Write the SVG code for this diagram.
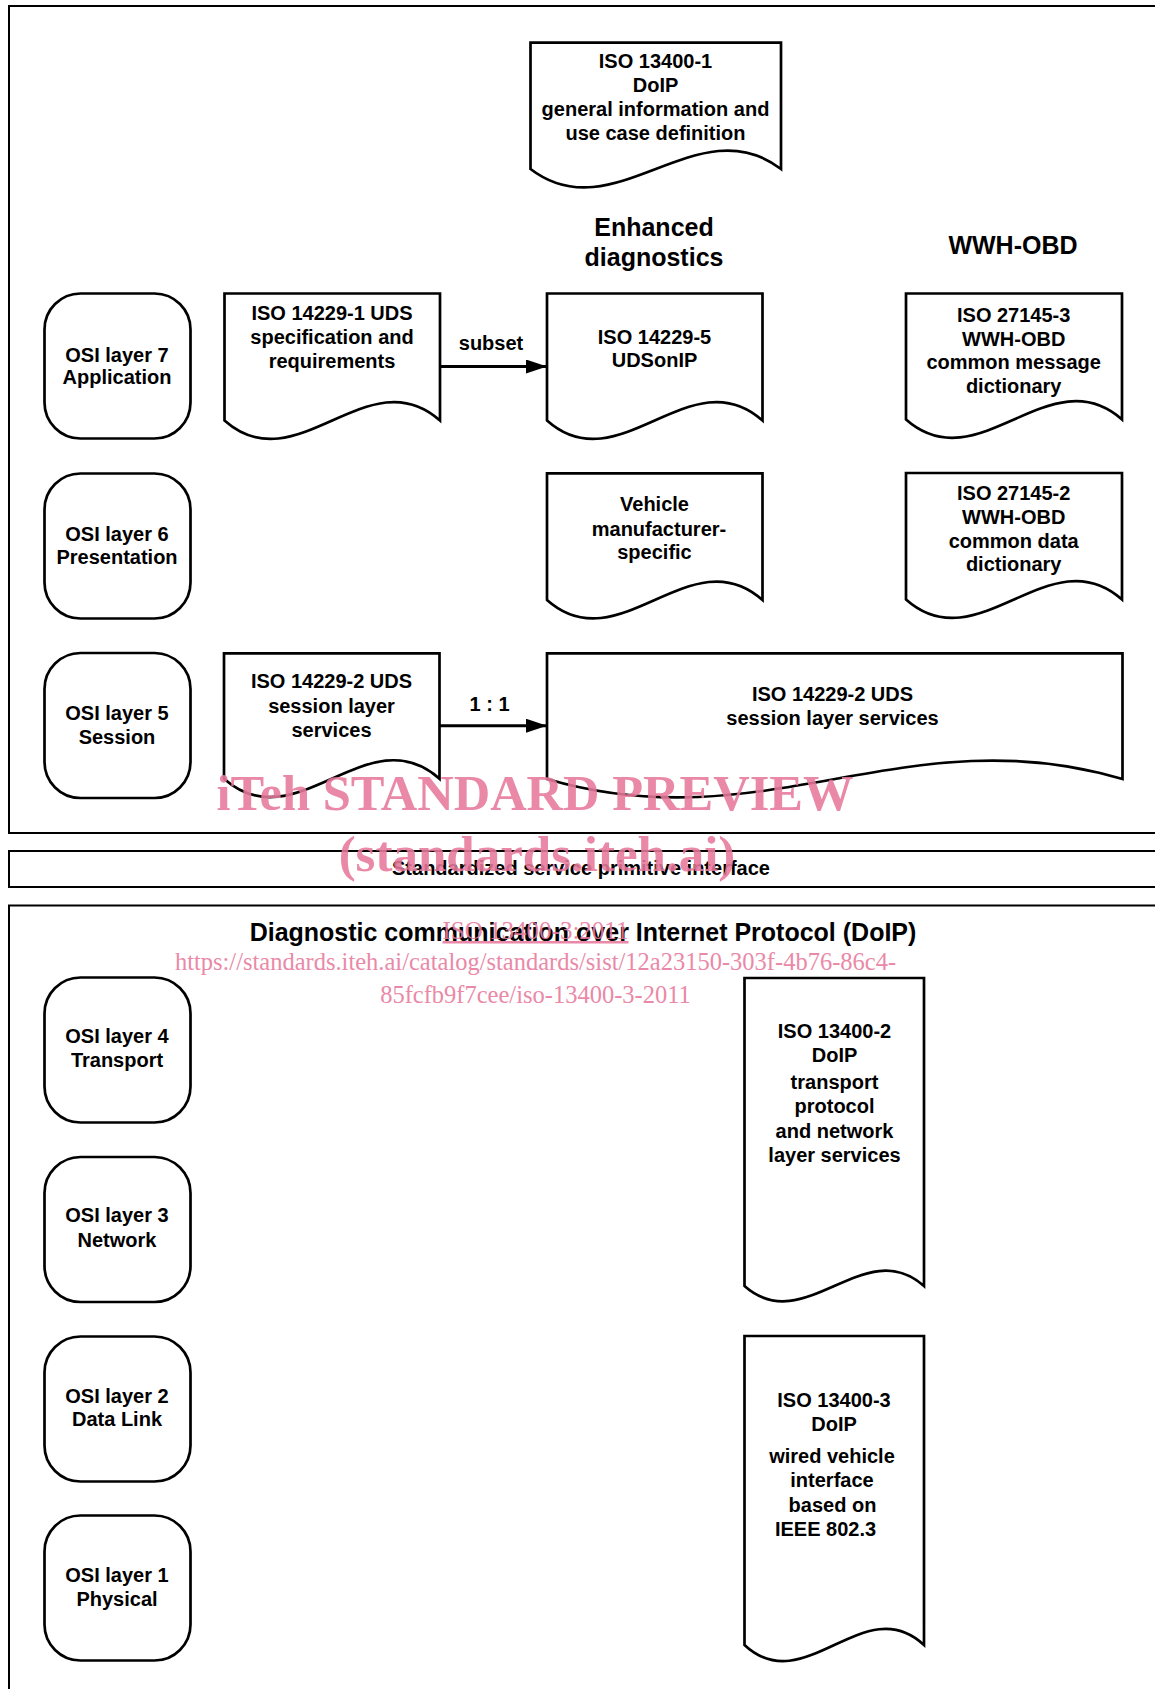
<svg xmlns="http://www.w3.org/2000/svg" width="1155" height="1689" viewBox="0 0 1155 1689">
<style>
.frame{fill:none;stroke:#000;stroke-width:2}
.osi{fill:#fff;stroke:#000;stroke-width:2.7}
.doc{fill:#fff;stroke:#000;stroke-width:2.7;stroke-linejoin:miter}
.t{font-family:"Liberation Sans",Arial,sans-serif;font-weight:bold;font-size:20px;fill:#000;text-anchor:middle}
.h{font-family:"Liberation Sans",Arial,sans-serif;font-weight:bold;font-size:25px;fill:#000;text-anchor:middle}
.conn{fill:none;stroke:#000;stroke-width:3}
.wm{font-family:"Liberation Serif","Times New Roman",serif;fill:#e8799c;opacity:0.88;text-anchor:middle}
</style>
<defs>
<marker id="arr" markerWidth="22" markerHeight="14" refX="21" refY="7" orient="auto" markerUnits="userSpaceOnUse">
<path d="M0,0 L21,7 L0,14 Z" fill="#000"/>
</marker>
</defs>
<rect width="1155" height="1689" fill="#fff"/>

<g id="frames">
<path class="frame" d="M1160,6 H9 V833 H1160"/>
<path class="frame" d="M1160,851 H9 V887 H1160"/>
<path class="frame" d="M1160,905.5 H9 V1700"/>
</g>

<g id="titles">
<text class="h" x="654" y="236">Enhanced</text>
<text class="h" x="654" y="266">diagnostics</text>
<text class="h" x="1013" y="254">WWH-OBD</text>
<text class="t" x="581" y="875">Standardized service primitive interface</text>
<text class="h" x="583" y="941">Diagnostic communication over Internet Protocol (DoIP)</text>
</g>

<g id="osi7"><rect class="osi" x="44.5" y="293.5" width="146" height="145" rx="36"/>
<text class="t" x="117" y="361.5">OSI layer 7</text><text class="t" x="117" y="383.5">Application</text></g>
<g id="osi6"><rect class="osi" x="44.5" y="473.5" width="146" height="145" rx="36"/>
<text class="t" x="117" y="540.5">OSI layer 6</text><text class="t" x="117" y="564">Presentation</text></g>
<g id="osi5"><rect class="osi" x="44.5" y="653" width="146" height="145" rx="36"/>
<text class="t" x="117" y="719.5">OSI layer 5</text><text class="t" x="117" y="743.5">Session</text></g>
<g id="osi4"><rect class="osi" x="44.5" y="977.5" width="146" height="145" rx="36"/>
<text class="t" x="117" y="1042.5">OSI layer 4</text><text class="t" x="117" y="1067">Transport</text></g>
<g id="osi3"><rect class="osi" x="44.5" y="1157" width="146" height="145" rx="36"/>
<text class="t" x="117" y="1222.3">OSI layer 3</text><text class="t" x="117" y="1246.5">Network</text></g>
<g id="osi2"><rect class="osi" x="44.5" y="1336.5" width="146" height="145" rx="36"/>
<text class="t" x="117" y="1402.5">OSI layer 2</text><text class="t" x="117" y="1426">Data Link</text></g>
<g id="osi1"><rect class="osi" x="44.5" y="1515.5" width="146" height="145" rx="36"/>
<text class="t" x="117" y="1582">OSI layer 1</text><text class="t" x="117" y="1605.5">Physical</text></g>

<g id="iso13400-1"><path class="doc" d="M530.5,42.7 H781 V169 C697.5,105 614,233 530.5,169 Z"/>
<text class="t" x="655.5" y="67.5">ISO 13400-1</text>
<text class="t" x="655.5" y="91.7">DoIP</text>
<text class="t" x="655.5" y="115.9">general information and</text>
<text class="t" x="655.5" y="140.1">use case definition</text></g>

<g id="iso14229-1"><path class="doc" d="M224.5,293.5 H440 V420.5 C368.2,356.5 296.3,484.5 224.5,420.5 Z"/>
<text class="t" x="332" y="319.5">ISO 14229-1 UDS</text>
<text class="t" x="332" y="343.5">specification and</text>
<text class="t" x="332" y="367.5">requirements</text></g>

<g id="iso14229-5"><path class="doc" d="M547,293.5 H762.5 V420.5 C690.7,356.5 618.8,484.5 547,420.5 Z"/>
<text class="t" x="654.5" y="343.5">ISO 14229-5</text>
<text class="t" x="654.5" y="367">UDSonIP</text></g>

<g id="iso27145-3"><path class="doc" d="M906,293.5 H1122 V419.5 C1050,356 978,483 906,419.5 Z"/>
<text class="t" x="1013.7" y="321.7">ISO 27145-3</text>
<text class="t" x="1013.7" y="345.5">WWH-OBD</text>
<text class="t" x="1013.7" y="369.3">common message</text>
<text class="t" x="1013.7" y="393">dictionary</text></g>

<g id="vms"><path class="doc" d="M547,473.3 H762.5 V600 C690.7,536 618.8,664 547,600 Z"/>
<text class="t" x="654.5" y="511">Vehicle</text>
<text class="t" x="659" y="535.5">manufacturer-</text>
<text class="t" x="654.5" y="559.3">specific</text></g>

<g id="iso27145-2"><path class="doc" d="M906,473 H1122 V599.5 C1050,535.5 978,663.5 906,599.5 Z"/>
<text class="t" x="1013.7" y="500">ISO 27145-2</text>
<text class="t" x="1013.7" y="523.8">WWH-OBD</text>
<text class="t" x="1013.7" y="547.6">common data</text>
<text class="t" x="1013.7" y="571.4">dictionary</text></g>

<g id="iso14229-2a"><path class="doc" d="M224,653.3 H439.5 V778.7 C367.7,714.7 295.8,842.7 224,778.7 Z"/>
<text class="t" x="331.5" y="688.3">ISO 14229-2 UDS</text>
<text class="t" x="331.5" y="712.5">session layer</text>
<text class="t" x="331.5" y="736.7">services</text></g>

<g id="iso14229-2b"><path class="doc" d="M547,653.3 H1122.5 V779 C905,715 765,843 547,779 Z"/>
<text class="t" x="832.5" y="700.7">ISO 14229-2 UDS</text>
<text class="t" x="832.5" y="725">session layer services</text></g>

<g id="iso13400-2"><path class="doc" d="M744.5,978 H924 V1286 C864.2,1233 804.3,1339 744.5,1286 Z"/>
<text class="t" x="834.5" y="1038.3">ISO 13400-2</text>
<text class="t" x="834.5" y="1062.3">DoIP</text>
<text class="t" x="834.5" y="1088.5">transport</text>
<text class="t" x="834.5" y="1113">protocol</text>
<text class="t" x="834.5" y="1138">and network</text>
<text class="t" x="834.5" y="1162.3">layer services</text></g>

<g id="iso13400-3"><path class="doc" d="M744.5,1336 H924 V1645 C864.2,1589 804.3,1701 744.5,1645 Z"/>
<text class="t" x="834" y="1407.3">ISO 13400-3</text>
<text class="t" x="834" y="1431">DoIP</text>
<text class="t" x="832" y="1463.3">wired vehicle</text>
<text class="t" x="832" y="1487.3">interface</text>
<text class="t" x="832.5" y="1511.7">based on</text>
<text class="t" x="825.5" y="1535.5">IEEE 802.3</text></g>

<g id="connectors">
<line class="conn" x1="440" y1="366.5" x2="547" y2="366.5" marker-end="url(#arr)"/>
<text class="t" x="491" y="349.5">subset</text>
<line class="conn" x1="439.5" y1="725.7" x2="547" y2="725.7" marker-end="url(#arr)"/>
<text class="t" x="489.5" y="711">1 : 1</text>
</g>

<g id="watermark">
<text class="wm" x="535" y="809.5" font-size="50.5" font-weight="bold">iTeh STANDARD PREVIEW</text>
<text class="wm" x="537" y="871" font-size="51" font-weight="bold">(standards.iteh.ai)</text>
<text class="wm" x="535.5" y="939" font-size="25" text-decoration="underline">ISO 13400-3:2011</text>
<text class="wm" x="535.5" y="970" font-size="24.5">https://standards.iteh.ai/catalog/standards/sist/12a23150-303f-4b76-86c4-</text>
<text class="wm" x="535.5" y="1002.5" font-size="24.5">85fcfb9f7cee/iso-13400-3-2011</text>
</g>
</svg>
